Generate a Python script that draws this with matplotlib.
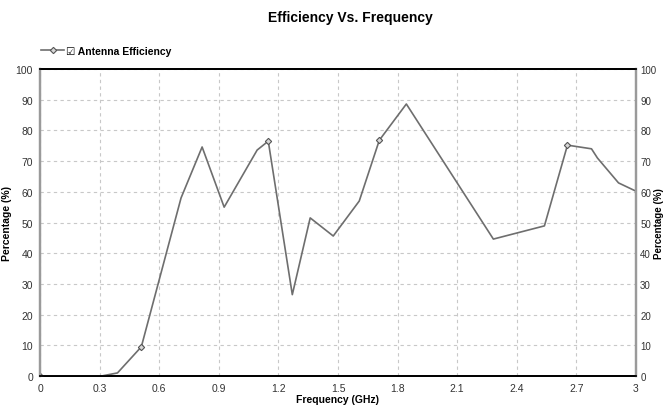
import matplotlib.pyplot as plt

plt.rcParams['font.family'] = ['Liberation Sans Narrow', 'Liberation Sans', 'DejaVu Sans']

# data
freq_ghz = [0.0, 0.31, 0.39, 0.51, 0.71, 0.816, 0.927, 1.093, 1.149, 1.27, 1.36,
            1.476, 1.607, 1.708, 1.844, 2.282, 2.539, 2.655, 2.776, 2.806, 2.912, 3.0]
efficiency = [0.0, 0.0, 1.0, 9.5, 58.0, 74.6, 55.0, 73.6, 76.5, 26.5, 51.5,
              45.6, 57.0, 76.8, 88.6, 44.6, 48.9, 75.2, 74.0, 71.0, 62.9, 60.2]
marker_idx = [0, 3, 8, 13, 17]
xticks = [0, 0.3, 0.6, 0.9, 1.2, 1.5, 1.8, 2.1, 2.4, 2.7, 3]
xtick_labels = ["0", "0.3", "0.6", "0.9", "1.2", "1.5", "1.8", "2.1", "2.4", "2.7", "3"]
yticks = list(range(0, 101, 10))

fig = plt.figure(figsize=(6.65, 4.1), dpi=100)
ax = fig.add_axes([40/665, 1 - 377/410, 596/665, 307/410])

line_col = "#6e6e6e"
ax.plot(freq_ghz, efficiency, color=line_col, lw=1.2, marker='D', markersize=3.2,
        markevery=marker_idx, markerfacecolor="#d8d8d8", markeredgecolor="#555555",
        markeredgewidth=0.8, label="\u2611 Antenna Efficiency", zorder=3)

ax.set_xlim(0, 3)
ax.set_ylim(0, 100)
ax.set_xticks(xticks)
ax.set_xticklabels(xtick_labels)
ax.set_yticks(yticks)
ax.tick_params(length=0, labelsize=7.5, colors="#333333", pad=5)
ax.grid(True, ls=(0, (3, 3)), color="#c8c8c8", lw=0.8)

ax2 = ax.twinx()
ax2.set_ylim(0, 100)
ax2.set_yticks(yticks)
ax2.tick_params(length=0, labelsize=7, colors="#333333", pad=3)

for a in (ax, ax2):
    a.spines['top'].set_color("black")
    a.spines['top'].set_linewidth(1.3)
    a.spines['bottom'].set_color("black")
    a.spines['bottom'].set_linewidth(1.3)
    a.spines['left'].set_color("#9a9a9a")
    a.spines['left'].set_linewidth(1.6)
    a.spines['right'].set_color("#9a9a9a")
    a.spines['right'].set_linewidth(1.6)

ax.set_ylabel("Percentage (%)", fontsize=7.5, fontweight='bold', labelpad=3)
ax2.set_ylabel("Percentage (%)", fontsize=7, fontweight='bold', rotation=90, va='center')
ax2.yaxis.set_label_coords(1.039, 0.5)
ax.set_xlabel("Frequency (GHz)", fontsize=7.5, fontweight='bold', labelpad=1)

fig.text(0.527, 0.955, "Efficiency Vs. Frequency", ha='center', va='center',
         fontsize=10, fontweight='bold')

leg = ax.legend(loc='lower left', bbox_to_anchor=(-0.005, 1.03), frameon=False,
                fontsize=7.5, handlelength=2.2, handletextpad=0.2, borderaxespad=0)
for t in leg.get_texts():
    t.set_fontweight('bold')

fig.savefig("out.png", dpi=100)
